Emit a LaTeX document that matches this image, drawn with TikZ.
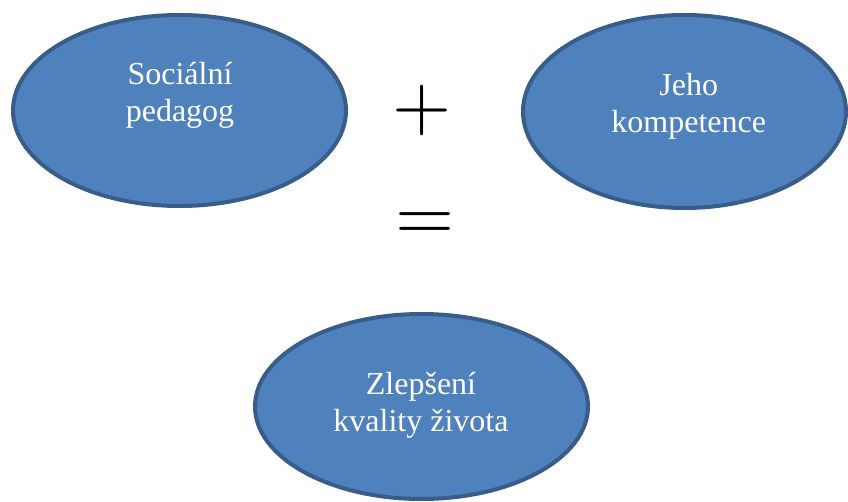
\documentclass[tikz,border=0pt]{standalone}
\usepackage[no-math]{fontspec}
\setmainfont{Liberation Serif}
\usetikzlibrary{shapes.geometric}
\definecolor{ovalfill}{HTML}{4F81BD}
\definecolor{ovalline}{HTML}{385D8A}
\begin{document}
\begin{tikzpicture}[x=1pt,y=-1pt,
  oval/.style={ellipse, draw=ovalline, fill=ovalfill, line width=4pt, inner sep=0pt},
  ovaltext/.style={text=white, align=center, anchor=base, inner sep=0pt,
    font=\fontsize{32}{37}\selectfont},
  sym/.style={inner sep=0pt}]
\useasboundingbox (0,0) rectangle (848,502);
\node[oval, minimum width=333pt, minimum height=191pt] (social) at (179.5,110.5) {};
\node[oval, minimum width=323pt, minimum height=193pt] (comp) at (684.5,111.5) {};
\node[oval, minimum width=333pt, minimum height=185pt] (result) at (421.5,406.5) {};
\node[ovaltext] (socialtext) at (180,122) {Sociální\\pedagog};
\node[ovaltext] (comptext) at (688.7,132.7) {Jeho\\kompetence};
\node[ovaltext] (resulttext) at (421,431) {Zlepšení\\kvality života};
\node[sym] (plus) at (422,111) {\scalebox{7.6}{$+$}};
\node[sym] (equals) at (425.5,221.4) {\scalebox{7.6}{$\vphantom{+}{=}$}};
\end{tikzpicture}
\end{document}
